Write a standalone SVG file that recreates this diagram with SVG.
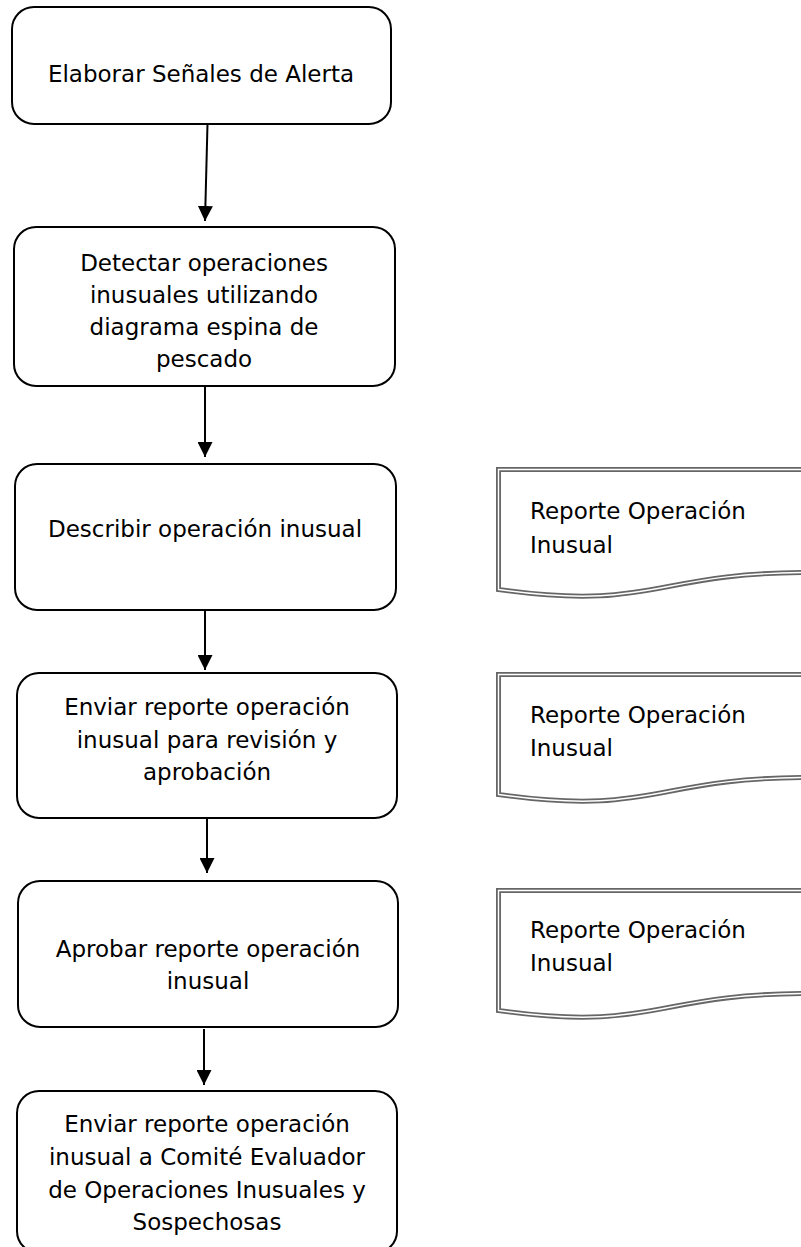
<svg xmlns="http://www.w3.org/2000/svg" width="801" height="1247" viewBox="0 0 801 1247">
<style>
.box{fill:#fff;stroke:#000;stroke-width:2}
.t{font-family:"DejaVu Sans","Verdana",sans-serif;font-size:23px;fill:#000}
.c{text-anchor:middle}
.docOuter{fill:#fff;stroke:#666;stroke-width:5}
.docInner{fill:none;stroke:#fff;stroke-width:1.4}
.conn{stroke:#000;stroke-width:2;fill:none}
</style>
<defs>
<marker id="ah" markerUnits="userSpaceOnUse" markerWidth="15" markerHeight="15" viewBox="0 0 10 10" refX="10" refY="5" orient="auto">
<path d="M0,0 L10,5 L0,10 z" fill="#000"/>
</marker>
<path id="docShape" d="M0,0 L310,0 L310,103 C155,103 155,142 0,120 Z"/>
</defs>
<rect width="801" height="1247" fill="#fff"/>

<g id="connectors">
<line class="conn" x1="207.5" y1="124" x2="205" y2="221" marker-end="url(#ah)"/>
<line class="conn" x1="205" y1="387" x2="205" y2="457" marker-end="url(#ah)"/>
<line class="conn" x1="205" y1="611" x2="205" y2="670" marker-end="url(#ah)"/>
<line class="conn" x1="207" y1="819" x2="207" y2="873" marker-end="url(#ah)"/>
<line class="conn" x1="204" y1="1029" x2="204" y2="1085" marker-end="url(#ah)"/>
</g>

<g id="n1">
<rect class="box" x="12" y="7" width="379" height="117" rx="22"/>
<text class="t c" x="201" y="82">Elaborar Señales de Alerta</text>
</g>

<g id="n2">
<rect class="box" x="14" y="227" width="381" height="159" rx="22"/>
<text class="t c" x="204" y="271">Detectar operaciones</text>
<text class="t c" x="204" y="303">inusuales utilizando</text>
<text class="t c" x="204" y="335">diagrama espina de</text>
<text class="t c" x="204" y="367">pescado</text>
</g>

<g id="n3">
<rect class="box" x="15" y="464" width="381" height="146" rx="22"/>
<text class="t c" x="205" y="537">Describir operación inusual</text>
</g>

<g id="n4">
<rect class="box" x="17" y="673" width="380" height="145" rx="22"/>
<text class="t c" x="207" y="715">Enviar reporte operación</text>
<text class="t c" x="207" y="748">inusual para revisión y</text>
<text class="t c" x="207" y="780">aprobación</text>
</g>

<g id="n5">
<rect class="box" x="18" y="881" width="380" height="146" rx="22"/>
<text class="t c" x="208" y="957">Aprobar reporte operación</text>
<text class="t c" x="208" y="989">inusual</text>
</g>

<g id="n6">
<rect class="box" x="17" y="1091" width="380" height="162" rx="22"/>
<text class="t c" x="207" y="1132">Enviar reporte operación</text>
<text class="t c" x="207" y="1165">inusual a Comité Evaluador</text>
<text class="t c" x="207" y="1198">de Operaciones Inusuales y</text>
<text class="t c" x="207" y="1230">Sospechosas</text>
</g>

<g id="d1">
<g transform="translate(498.5,469.5)">
<use href="#docShape" class="docOuter"/>
<use href="#docShape" class="docInner"/>
</g>
<text class="t" x="530" y="519">Reporte Operación</text>
<text class="t" x="530" y="553">Inusual</text>
</g>

<g id="d2">
<g transform="translate(498.5,674.5)">
<use href="#docShape" class="docOuter"/>
<use href="#docShape" class="docInner"/>
</g>
<text class="t" x="530" y="723">Reporte Operación</text>
<text class="t" x="530" y="756">Inusual</text>
</g>

<g id="d3">
<g transform="translate(498.5,890.5)">
<use href="#docShape" class="docOuter"/>
<use href="#docShape" class="docInner"/>
</g>
<text class="t" x="530" y="938">Reporte Operación</text>
<text class="t" x="530" y="971">Inusual</text>
</g>
</svg>
